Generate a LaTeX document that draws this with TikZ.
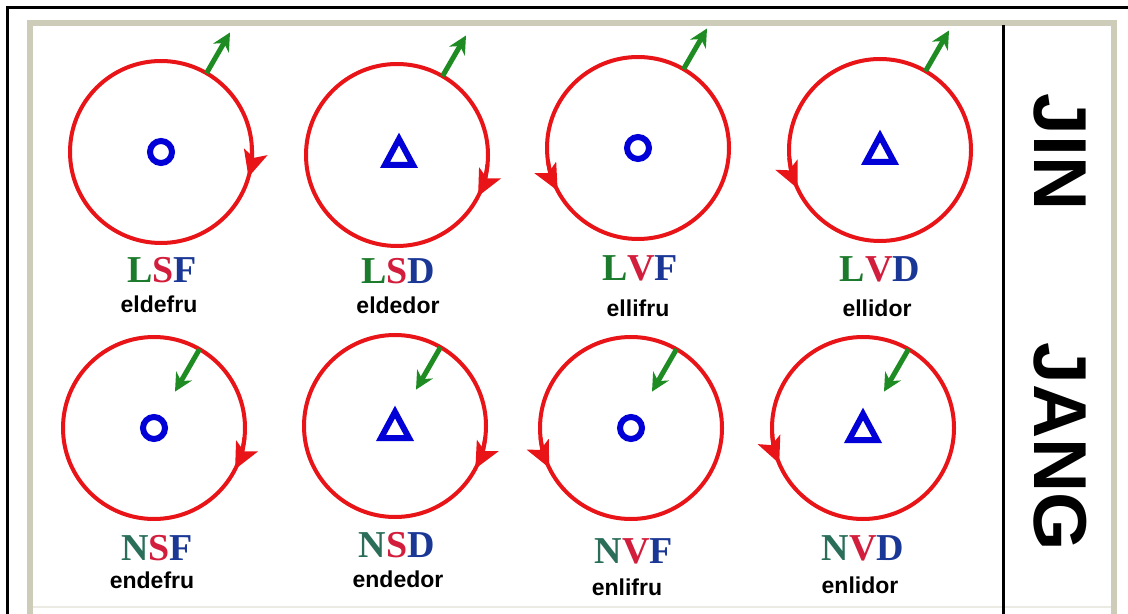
\documentclass[tikz,border=0pt]{standalone}
\usepackage{fontspec}
\setmainfont{Liberation Serif}
\newfontfamily\arialfont{Liberation Sans}
\usetikzlibrary{arrows.meta}
\definecolor{rimred}{RGB}{232,20,24}
\definecolor{spingreen}{RGB}{30,140,35}
\definecolor{coreblue}{RGB}{0,0,215}
\definecolor{framebeige}{RGB}{204,204,184}
\definecolor{letL}{RGB}{27,122,43}
\definecolor{letN}{RGB}{42,110,90}
\definecolor{letS}{RGB}{210,30,60}
\definecolor{letF}{RGB}{26,55,150}
\begin{document}
\begin{tikzpicture}[x=0.5pt,y=-0.5pt,
  rim/.style={draw=rimred,line width=2pt},
  turn/.style={rimred,line width=2pt,-{Stealth[length=13pt,width=12pt,inset=3pt]}},
  spin/.style={spingreen,line width=2.5pt,-{Stealth[length=9pt,width=9pt]}},
  core/.style={coreblue,line width=3pt,line join=miter},
  code/.style={anchor=base,font=\bfseries\fontsize{19}{19}\selectfont},
  word/.style={anchor=base,font=\arialfont\bfseries\fontsize{11.5}{11.5}\selectfont},
  side/.style={rotate=-90,font=\arialfont\bfseries\fontsize{37.5}{37.5}\selectfont}]
\useasboundingbox (0,0) rectangle (1128,614);
\fill[white] (0,0) rectangle (1128,614);
\draw[line width=1.5pt] (7,614) -- (7,8) -- (1128,8);
\draw[framebeige,line width=3pt] (30,614) -- (30,23) -- (1114,23) -- (1114,614);
\draw[framebeige!40,line width=1pt] (33,607) -- (1111,607);
\draw[line width=1.5pt] (1003,25) -- (1003,614);
\coordinate (lsf) at (161,152);
\coordinate (lsd) at (397,155);
\coordinate (lvf) at (638,148);
\coordinate (lvd) at (880,150);
\coordinate (nsf) at (154,428);
\coordinate (nsd) at (395,426);
\coordinate (nvf) at (631,428);
\coordinate (nvd) at (863,428);
\draw[rim] (lsf) circle[radius=91];
\draw[rim] (lsd) circle[radius=91];
\draw[rim] (lvf) circle[radius=91];
\draw[rim] (lvd) circle[radius=91];
\draw[rim] (nsf) circle[radius=91];
\draw[rim] (nsd) circle[radius=91];
\draw[rim] (nvf) circle[radius=91];
\draw[rim] (nvd) circle[radius=91];
\draw[turn] ([shift={(-4:91)}]lsf) arc[start angle=-4,end angle=16,radius=91];
\draw[turn] ([shift={(6:91)}]lsd) arc[start angle=6,end angle=27,radius=91];
\draw[turn] ([shift={(172:91)}]lvf) arc[start angle=172,end angle=152,radius=91];
\draw[turn] ([shift={(175:91)}]lvd) arc[start angle=175,end angle=155,radius=91];
\draw[turn] ([shift={(6:91)}]nsf) arc[start angle=6,end angle=27,radius=91];
\draw[turn] ([shift={(7:91)}]nsd) arc[start angle=7,end angle=28,radius=91];
\draw[turn] ([shift={(174:91)}]nvf) arc[start angle=174,end angle=154,radius=91];
\draw[turn] ([shift={(177:91)}]nvd) arc[start angle=177,end angle=157,radius=91];
\draw[spin] ([shift={(-60:91)}]lsf) -- ([shift={(-60:138)}]lsf);
\draw[spin] ([shift={(-60:91)}]lsd) -- ([shift={(-60:138)}]lsd);
\draw[spin] ([shift={(-60:91)}]lvf) -- ([shift={(-60:138)}]lvf);
\draw[spin] ([shift={(-60:91)}]lvd) -- ([shift={(-60:138)}]lvd);
\draw[spin] ([shift={(-60:91)}]nsf) -- ([shift={(-60:42)}]nsf);
\draw[spin] ([shift={(-60:91)}]nsd) -- ([shift={(-60:42)}]nsd);
\draw[spin] ([shift={(-60:91)}]nvf) -- ([shift={(-60:42)}]nvf);
\draw[spin] ([shift={(-60:91)}]nvd) -- ([shift={(-60:42)}]nvd);
\draw[core] (lsf) circle[radius=11];
\draw[core] (lsd) ++(2,-16) -- ++(14,26) -- ++(-28,0) -- cycle;
\draw[core] (lvf) circle[radius=11];
\draw[core] (lvd) ++(0,-14) -- ++(14,26) -- ++(-28,0) -- cycle;
\draw[core] (nsf) circle[radius=11];
\draw[core] (nsd) ++(0,-14) -- ++(14,26) -- ++(-28,0) -- cycle;
\draw[core] (nvf) circle[radius=11];
\draw[core] (nvd) ++(0,-14) -- ++(14,26) -- ++(-28,0) -- cycle;
\node[code] (lsftag) at (162,283) {\textcolor{letL}{L}\textcolor{letS}{S}\textcolor{letF}{F}};
\node[word] (lsfname) at (159,313) {eldefru};
\node[code] (lsdtag) at (398,284) {\textcolor{letL}{L}\textcolor{letS}{S}\textcolor{letF}{D}};
\node[word] (lsdname) at (398,314) {eldedor};
\node[code] (lvftag) at (640,281) {\textcolor{letL}{L}\textcolor{letS}{V}\textcolor{letF}{F}};
\node[word] (lvfname) at (638,317) {ellifru};
\node[code] (lvdtag) at (880,282) {\textcolor{letL}{L}\textcolor{letS}{V}\textcolor{letF}{D}};
\node[word] (lvdname) at (877,317) {ellidor};
\node[code] (nsftag) at (157,560) {\textcolor{letN}{N}\textcolor{letS}{S}\textcolor{letF}{F}};
\node[word] (nsfname) at (152,588) {endefru};
\node[code] (nsdtag) at (397,557) {\textcolor{letN}{N}\textcolor{letS}{S}\textcolor{letF}{D}};
\node[word] (nsdname) at (398,587) {endedor};
\node[code] (nvftag) at (634,563) {\textcolor{letN}{N}\textcolor{letS}{V}\textcolor{letF}{F}};
\node[word] (nvfname) at (627,595) {enlifru};
\node[code] (nvdtag) at (863,560) {\textcolor{letN}{N}\textcolor{letS}{V}\textcolor{letF}{D}};
\node[word] (nvdname) at (860,593) {enlidor};
\node[side] (jin) at (1060,152) {JIN};
\node[side] (jang) at (1060,447) {JANG};
\end{tikzpicture}
\end{document}
